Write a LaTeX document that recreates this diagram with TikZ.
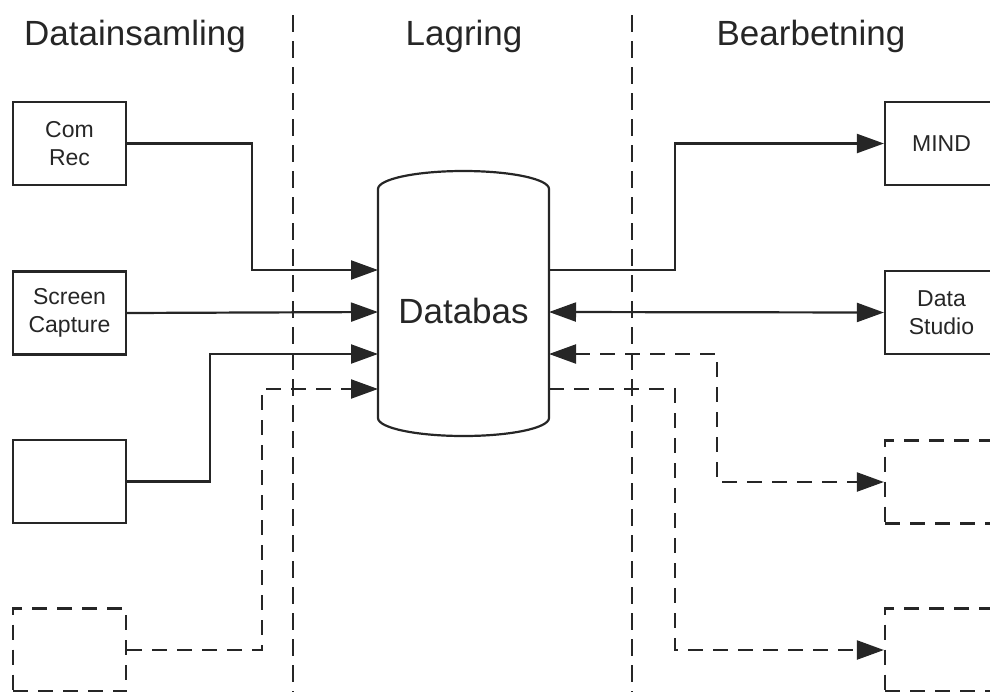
\documentclass[tikz,border=0pt]{standalone}
\usepackage{fontspec}
\setmainfont{Liberation Sans}
\usetikzlibrary{arrows.meta}

\tikzset{
  ink/.style={draw=black!85, line width=2.2pt},
  tip/.tip={Triangle[length=27pt,width=19pt]},
  blockbox/.style={ink, rectangle, minimum width=113pt, minimum height=83pt,
    inner sep=0pt, align=center, text=black!85,
    font=\fontsize{23}{28}\selectfont},
  ghostbox/.style={blockbox, dash pattern=on 15pt off 10pt},
  conn/.style={ink, -tip},
  biconn/.style={ink, tip-tip},
  dconn/.style={conn, dash pattern=on 15pt off 10pt},
  dbiconn/.style={biconn, dash pattern=on 15pt off 10pt},
  divider/.style={draw=black!85, line width=1.9pt, dash pattern=on 17pt off 9pt},
  heading/.style={anchor=base, text=black!85, font=\fontsize{35}{42}\selectfont}
}

\begin{document}
\begin{tikzpicture}[x=1pt, y=-1pt]
\useasboundingbox (0,0) rectangle (990,691);
\clip (0,0) rectangle (990,691);

% column headings
\node[heading] (h1) at (135,45) {Datainsamling};
\node[heading] (h2) at (464,45) {Lagring};
\node[heading] (h3) at (811,45) {Bearbetning};

% column dividers
\draw[divider] (293,15) -- (293,700);
\draw[divider] (632,15) -- (632,700);

% database drum
\draw[ink, fill=white]
  (378,189) -- (378,418)
  arc[start angle=180, end angle=0, x radius=85.5, y radius=18]
  -- (549,189)
  arc[start angle=0, end angle=-180, x radius=85.5, y radius=18] -- cycle;
\node[text=black!85, font=\fontsize{35}{42}\selectfont] (db) at (463.5,311) {Databas};

% drum ports
\coordinate (dbL1) at (378,270);
\coordinate (dbL2) at (378,312);
\coordinate (dbL3) at (378,354);
\coordinate (dbL4) at (378,389);
\coordinate (dbR1) at (549,270);
\coordinate (dbR2) at (549,312);
\coordinate (dbR3) at (549,354);
\coordinate (dbR4) at (549,389);

% sources
\node[blockbox] (comrec) at (69.5,143.5) {Com\\Rec};
\node[blockbox] (screen) at (69.5,313) {Screen\\Capture};
\node[blockbox] (src3)   at (69.5,481.5) {};
\node[ghostbox] (src4)   at (69.5,650) {};

% consumers
\node[blockbox] (mind)   at (941.5,143.5) {MIND};
\node[blockbox] (studio) at (941.5,312.5) {Data\\Studio};
\node[ghostbox] (dst3)   at (941.5,482) {};
\node[ghostbox] (dst4)   at (941.5,650) {};

% incoming flows
\draw[conn] (comrec.east) -| (252,270) -- (dbL1);
\draw[conn] (screen.east) -- (dbL2);
\draw[conn] (src3.east) -| (210,354) -- (dbL3);
\draw[dconn] (src4.east) -| (262,389) -- (dbL4);

% outgoing flows
\draw[conn] (dbR1) -| (675,143.5) -- (mind.west);
\draw[biconn] (dbR2) -- (studio.west);
\draw[dbiconn] (dbR3) -| (717,482) -- (dst3.west);
\draw[dconn] (dbR4) -| (675,650) -- (dst4.west);
\end{tikzpicture}
\end{document}
